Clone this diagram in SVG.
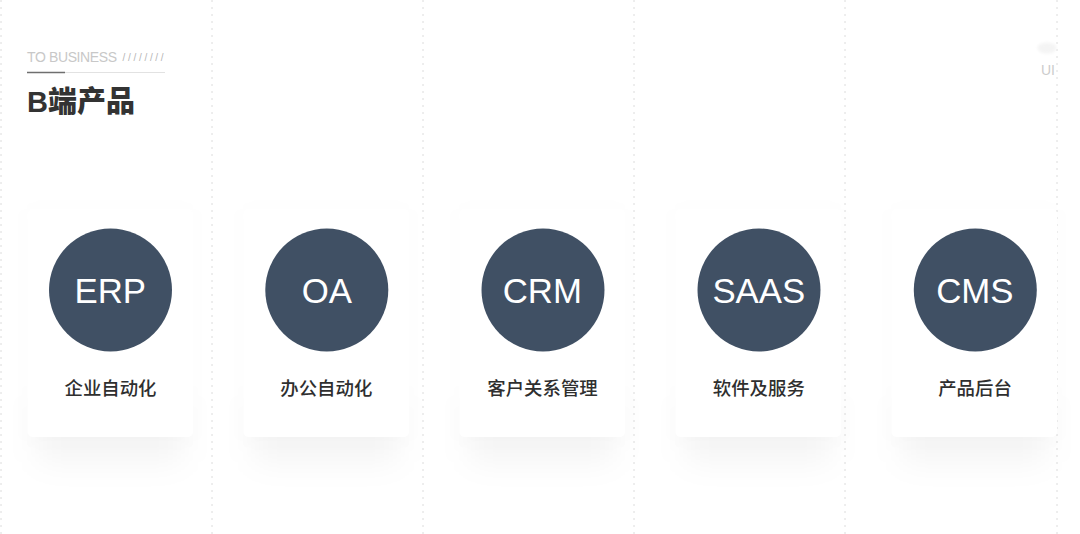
<svg xmlns="http://www.w3.org/2000/svg" width="1080" height="534" viewBox="0 0 1080 534">
<style>
.guide{stroke:#dcdcdc;stroke-width:1;stroke-dasharray:2 5;fill:none}
.card{fill:#fff}
.shadow{fill:#000;fill-opacity:.04;filter:url(#blur)}
.halo{fill:#000;fill-opacity:.01;filter:url(#blur2)}
.disc{fill:#405064}
.abbr{font-family:"Liberation Sans",Arial,sans-serif;font-size:34.800px;fill:#fff;text-anchor:middle}
.lbl{font-family:"Noto Sans CJK SC","Noto Sans",sans-serif;font-size:18.400px;font-weight:500;fill:#2f2f2f;text-anchor:middle}
</style>
<defs>
<filter id="blur" x="-40%" y="-60%" width="180%" height="220%"><feGaussianBlur stdDeviation="15"/></filter>
<filter id="blur2" x="-40%" y="-40%" width="180%" height="180%"><feGaussianBlur stdDeviation="10"/></filter>
<filter id="soft" x="-40%" y="-40%" width="180%" height="180%"><feGaussianBlur stdDeviation="1.500"/></filter>
</defs>
<rect width="1080" height="534" fill="#fff"/>
<g id="guides">
<line class="guide" x1="1" y1="0" x2="1" y2="534"/>
<line class="guide" x1="212" y1="0" x2="212" y2="534"/>
<line class="guide" x1="423" y1="0" x2="423" y2="534"/>
<line class="guide" x1="634" y1="0" x2="634" y2="534"/>
<line class="guide" x1="845" y1="0" x2="845" y2="534"/>
<line class="guide" x1="1057" y1="0" x2="1057" y2="534"/>
</g>
<g id="header">
<text x="27" y="62" font-family="'Liberation Sans',Arial,sans-serif" font-size="14" letter-spacing="-0.380" fill="#c8c8c8">TO BUSINESS</text>
<text x="122.500" y="61" font-family="'Liberation Sans',Arial,sans-serif" font-size="10" letter-spacing="2.700" fill="#b5b5b5">////////</text>
<line x1="27" y1="72.500" x2="165" y2="72.500" stroke="#e2e2e2" stroke-width="1"/>
<line x1="27" y1="72.500" x2="65" y2="72.500" stroke="#6f6f6f" stroke-width="1.500"/>
<text x="27" y="112" font-family="'Liberation Sans','Noto Sans CJK SC',sans-serif" font-size="29" font-weight="900" fill="#333">B端产品</text>
</g>
<g id="corner">
<ellipse cx="1047" cy="48" rx="9.500" ry="5.500" fill="#f4f4f4" filter="url(#soft)"/>
<text x="1048" y="75" text-anchor="middle" font-family="'Liberation Sans',Arial,sans-serif" font-size="14" fill="#cccccc">UI</text>
</g>
<g id="node-erp">
<rect class="halo" x="27" y="209" width="166" height="232" rx="8"/>
<rect class="shadow" x="37" y="395" width="146" height="68" rx="10"/>
<rect class="card" x="27.500" y="209" width="165.500" height="228" rx="5"/>
<circle class="disc" cx="110.500" cy="290" r="61.500"/>
<text class="abbr" x="110.300" y="303">ERP</text>
<text class="lbl" x="110.500" y="395">企业自动化</text>
</g>
<g id="node-oa">
<rect class="halo" x="243" y="209" width="166" height="232" rx="8"/>
<rect class="shadow" x="253" y="395" width="146" height="68" rx="10"/>
<rect class="card" x="243.500" y="209" width="165.500" height="228" rx="5"/>
<circle class="disc" cx="326.800" cy="290" r="61.500"/>
<text class="abbr" x="326.800" y="303">OA</text>
<text class="lbl" x="326.300" y="395">办公自动化</text>
</g>
<g id="node-crm">
<rect class="halo" x="459" y="209" width="166" height="232" rx="8"/>
<rect class="shadow" x="469" y="395" width="146" height="68" rx="10"/>
<rect class="card" x="459.500" y="209" width="165.500" height="228" rx="5"/>
<circle class="disc" cx="543" cy="290" r="61.500"/>
<text class="abbr" x="542.300" y="303">CRM</text>
<text class="lbl" x="542.500" y="395">客户关系管理</text>
</g>
<g id="node-saas">
<rect class="halo" x="675" y="209" width="166" height="232" rx="8"/>
<rect class="shadow" x="685" y="395" width="146" height="68" rx="10"/>
<rect class="card" x="675.500" y="209" width="165.500" height="228" rx="5"/>
<circle class="disc" cx="759" cy="290" r="61.500"/>
<text class="abbr" x="758.800" y="303">SAAS</text>
<text class="lbl" x="758.800" y="395">软件及服务</text>
</g>
<g id="node-cms">
<rect class="halo" x="891" y="209" width="166" height="232" rx="8"/>
<rect class="shadow" x="901" y="395" width="146" height="68" rx="10"/>
<rect class="card" x="891.500" y="209" width="165.500" height="228" rx="5"/>
<circle class="disc" cx="975.300" cy="290" r="61.500"/>
<text class="abbr" x="974.800" y="303">CMS</text>
<text class="lbl" x="975" y="395">产品后台</text>
</g>
<g id="connectors"></g>
</svg>
